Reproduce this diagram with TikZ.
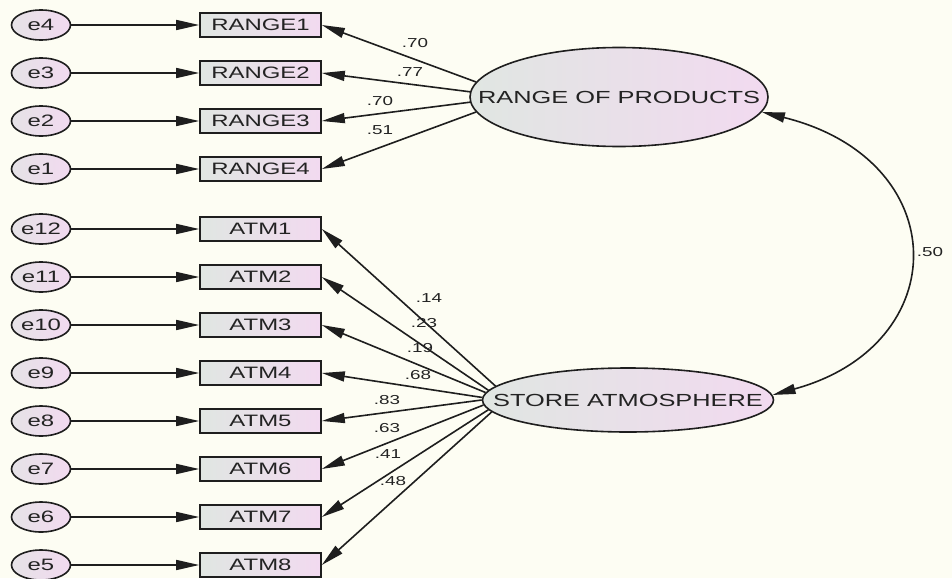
\documentclass[tikz,border=0pt]{standalone}
\usepackage{fontspec}
\newfontfamily\amosfont[FakeStretch=1.45]{Liberation Sans}
\usetikzlibrary{arrows.meta,shapes.geometric}
\definecolor{paper}{RGB}{253,253,243}
\definecolor{ink}{RGB}{30,30,30}
\definecolor{txt}{RGB}{35,35,35}
\definecolor{shadeL}{RGB}{224,230,226}
\definecolor{shadeR}{RGB}{242,218,240}
\tikzset{
  obs/.style={rectangle, draw=ink, line width=1.6pt, left color=shadeL, right color=shadeR,
    minimum width=121pt, minimum height=24pt, inner sep=0pt,
    font=\amosfont\fontsize{16.5}{18}\selectfont, text=txt},
  err/.style={ellipse, draw=ink, line width=1.6pt, left color=shadeL!70!shadeR, right color=shadeR,
    minimum width=59pt, minimum height=30pt, inner sep=0pt,
    font=\amosfont\fontsize{16.5}{18}\selectfont, text=txt},
  latent/.style={ellipse, draw=ink, line width=1.6pt, left color=shadeL, right color=shadeR, inner sep=0pt},
  lattext/.style={font=\amosfont\fontsize{17.5}{19}\selectfont, text=txt, inner sep=0pt},
  coef/.style={font=\amosfont\fontsize{13}{14}\selectfont, text=txt, inner sep=0pt},
  path/.style={draw=ink, line width=1.6pt, -{Triangle[length=23pt,width=10pt]}},
  covpath/.style={draw=ink, line width=1.6pt, {Triangle[length=23pt,width=10pt]}-{Triangle[length=23pt,width=10pt]}}
}
\begin{document}
\begin{tikzpicture}[x=1pt,y=-1pt]
  % page background and fixed bounding box
  \fill[paper] (0,0) rectangle (952,578);
  \useasboundingbox (0,0) rectangle (952,578);

  % latent variables
  \node[latent, minimum width=298pt, minimum height=99pt] (rop) at (619,97) {};
  \node[lattext] (roptext) at (rop.center) {RANGE OF PRODUCTS};
  \node[latent, minimum width=291pt, minimum height=64pt] (sa) at (628,400) {};
  \node[lattext] (satext) at (sa.center) {STORE ATMOSPHERE};

  % indicators with their error terms
  \foreach \i/\e/\y in {1/4/25, 2/3/73, 3/2/121, 4/1/169} {
    \node[obs] (r\i) at (260.5,\y) {RANGE\i};
    \node[err] (e\e) at (41,\y) {e\e};
    \draw[path] (e\e) -- (r\i);
  }
  \foreach \i/\e/\y in {1/12/229, 2/11/277, 3/10/325, 4/9/373, 5/8/421, 6/7/469, 7/6/517, 8/5/565} {
    \node[obs] (a\i) at (260.5,\y) {ATM\i};
    \node[err] (e\e) at (41,\y) {e\e};
    \draw[path] (e\e) -- (a\i);
  }

  % factor loadings
  \foreach \i/\ang in {1/174, 2/178, 3/182.3, 4/186.3}
    \draw[path] (rop.\ang) -- (r\i.east);
  \foreach \i/\ang in {1/174.8, 2/176.3, 3/177.9, 4/179.4, 5/180.9, 6/182.4, 7/184, 8/185.5}
    \draw[path] (sa.\ang) -- (a\i.east);

  % loading estimates
  \node[coef] (lr1) at (415,43) {.70};
  \node[coef] (lr2) at (410,72) {.77};
  \node[coef] (lr3) at (380,101) {.70};
  \node[coef] (lr4) at (380,130) {.51};
  \node[coef] (la1) at (429,298) {.14};
  \node[coef] (la2) at (424,323) {.23};
  \node[coef] (la3) at (420,348) {.19};
  \node[coef] (la4) at (418,375) {.68};
  \node[coef] (la5) at (387,400) {.83};
  \node[coef] (la6) at (387,428) {.63};
  \node[coef] (la7) at (388,454) {.41};
  \node[coef] (la8) at (393,481) {.48};

  % covariance between the two factors
  \draw[covpath] (rop.-6) .. controls (955,160) and (955,345) .. (sa.2);
  \node[coef] (lcov) at (930,252) {.50};
\end{tikzpicture}
\end{document}
